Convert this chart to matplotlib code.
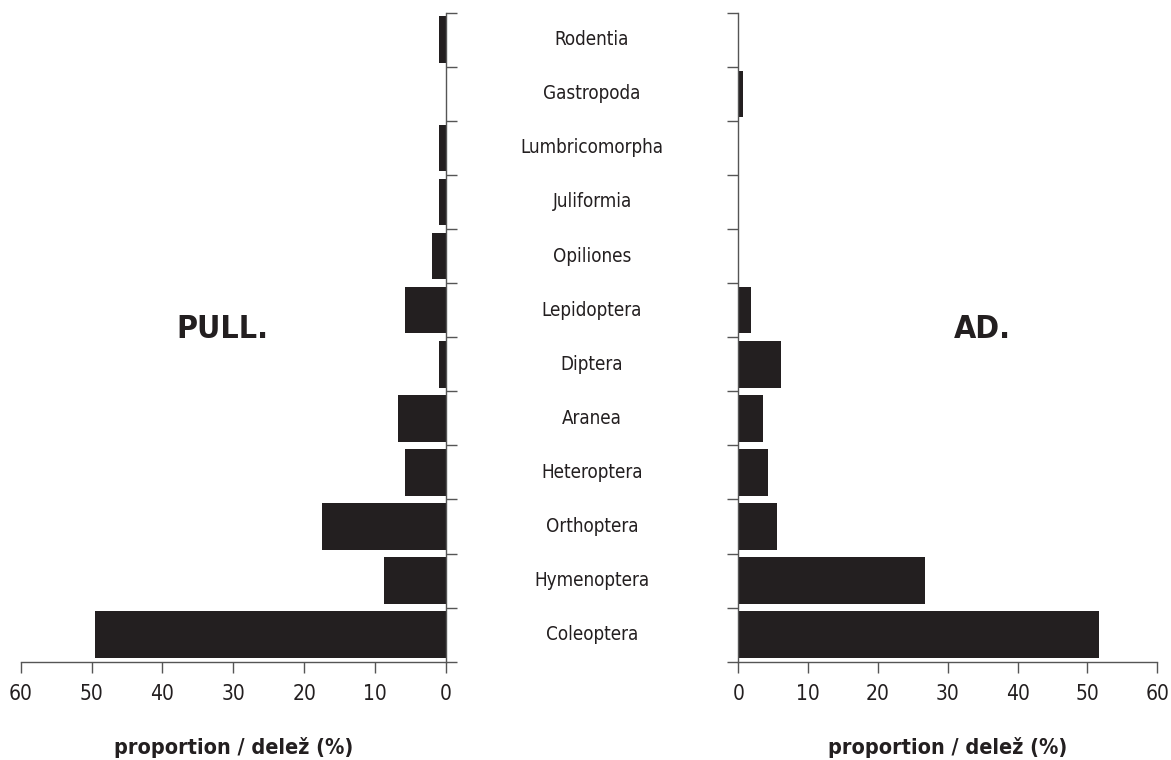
#!/usr/bin/env python3
import matplotlib.pyplot as plt
import matplotlib.transforms as mtransforms

plt.rcParams["font.family"] = ["DejaVu Sans"]
plt.rcParams["font.stretch"] = "condensed"

categories = [
    "Rodentia", "Gastropoda", "Lumbricomorpha", "Juliformia", "Opiliones",
    "Lepidoptera", "Diptera", "Aranea", "Heteroptera", "Orthoptera",
    "Hymenoptera", "Coleoptera",
]
pull_values = [1.0, 0.0, 1.0, 1.0, 2.0, 5.8, 1.0, 6.8, 5.8, 17.5, 8.7, 49.5]
ad_values = [0.0, 0.6, 0.0, 0.0, 0.0, 1.8, 6.1, 3.5, 4.25, 5.5, 26.7, 51.7]
x_ticks = [0, 10, 20, 30, 40, 50, 60]

BAR_COLOR = "#231f20"
SPINE_COLOR = "#555555"

fig = plt.figure(figsize=(11.71, 7.60), dpi=100)
ax_l = fig.add_axes([0.0177, 0.1293, 0.3632, 0.854])
ax_r = fig.add_axes([0.6305, 0.1293, 0.3578, 0.854])

ypos = list(range(len(categories)))
bounds = [i - 0.5 for i in range(len(categories) + 1)]

ax_l.barh(ypos, pull_values, height=0.86, color=BAR_COLOR)
ax_r.barh(ypos, ad_values, height=0.86, color=BAR_COLOR)

for ax, side in ((ax_l, "right"), (ax_r, "left")):
    ax.set_ylim(len(categories) - 0.5, -0.5)
    ax.set_xlim(0, 60)
    ax.set_yticks(bounds)
    ax.set_yticklabels([])
    ax.set_xticks(x_ticks)
    ax.tick_params(axis="x", length=8, width=1, color=SPINE_COLOR,
                   labelsize=15, pad=8, labelcolor="#231f20")
    ax.tick_params(axis="y", length=8, width=1, color=SPINE_COLOR)
    for name, spine in ax.spines.items():
        spine.set_color(SPINE_COLOR)
        spine.set_linewidth(1)
        if name not in (side, "bottom"):
            spine.set_visible(False)
    ax.yaxis.set_ticks_position(side)

ax_l.invert_xaxis()

trans = mtransforms.blended_transform_factory(fig.transFigure, ax_r.transData)
for i, name in enumerate(categories):
    ax_r.text(0.5056, i, name, transform=trans, ha="center", va="center",
              fontsize=13.5, color="#231f20")

fig.text(222 / 1171, 1 - 330 / 760, "PULL.", ha="center", va="center",
         fontsize=23, fontweight="bold", color="#231f20")
fig.text(982 / 1171, 1 - 330 / 760, "AD.", ha="center", va="center",
         fontsize=23, fontweight="bold", color="#231f20")

fig.text(234 / 1171, 1 - 748 / 760, "proportion / delež (%)", ha="center",
         va="center", fontsize=15.5, fontweight="bold", color="#231f20")
fig.text(948 / 1171, 1 - 748 / 760, "proportion / delež (%)", ha="center",
         va="center", fontsize=15.5, fontweight="bold", color="#231f20")

fig.savefig("out.png", dpi=100)
